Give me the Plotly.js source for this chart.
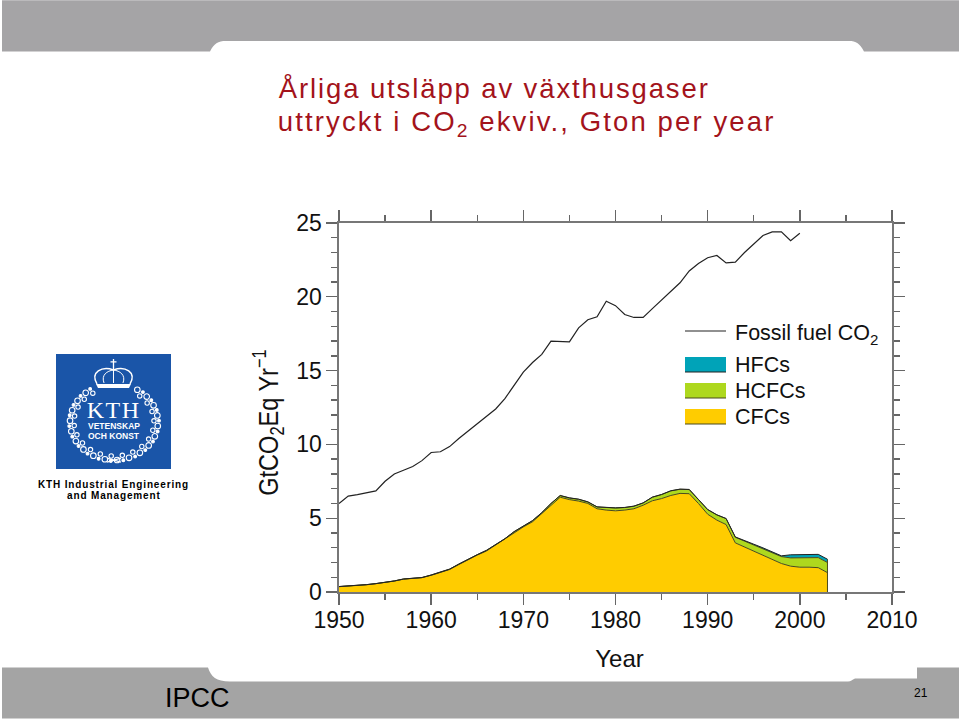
<!DOCTYPE html>
<html><head><meta charset="utf-8">
<script src="https://cdn.plot.ly/plotly-3.0.1.min.js"></script>
<style>html,body{margin:0;padding:0;background:#fff}#c{width:960px;height:720px}
.annotation[data-index="0"] text{letter-spacing:1.88px}
.annotation[data-index="1"] text{letter-spacing:2.12px}
.annotation[data-index="2"] text{letter-spacing:1.5px}
.annotation[data-index="5"] text,.annotation[data-index="6"] text{letter-spacing:.85px}
</style>
</head><body><div id="c"></div>
<script>
const years = [1950,1951,1952,1953,1954,1955,1956,1957,1958,1959,1960,1961,1962,1963,1964,1965,1966,1967,1968,1969,1970,1971,1972,1973,1974,1975,1976,1977,1978,1979,1980,1981,1982,1983,1984,1985,1986,1987,1988,1989,1990,1991,1992,1993,1994,1995,1996,1997,1998,1999,2000,2001,2002,2003];
const fossilYears = years.slice(0,51);
const fossil = [6.0,6.5,6.6,6.75,6.85,7.5,8.0,8.25,8.5,8.9,9.45,9.5,9.85,10.4,10.9,11.4,11.95,12.4,13.1,14.0,14.9,15.55,16.1,17.0,17.0,16.95,17.9,18.45,18.65,19.7,19.4,18.8,18.6,18.6,19.2,19.8,20.4,20.95,21.75,22.25,22.65,22.8,22.3,22.35,23.0,23.6,24.15,24.4,24.4,23.8,24.3];
const cfc = [.36,.39,.42,.49,.56,.63,.74,.87,.90,.97,1.13,1.33,1.52,1.86,2.20,2.50,2.78,3.19,3.56,4.03,4.41,4.76,5.30,5.90,6.42,6.26,6.16,6.0,5.64,5.55,5.5,5.55,5.64,5.88,6.18,6.33,6.54,6.68,6.66,6.0,5.27,4.87,4.57,3.33,3.06,2.79,2.5,2.2,1.93,1.75,1.68,1.68,1.65,1.31];
const hcfc = [.01,.01,.01,.01,.01,.01,.01,.01,.01,.01,.02,.03,.03,.03,.03,.03,.04,.04,.05,.06,.06,.07,.07,.09,.11,.11,.12,.10,.12,.17,.19,.17,.17,.15,.24,.27,.31,.28,.28,.26,.31,.35,.40,.38,.38,.41,.44,.45,.47,.56,.65,.65,.68,.69];
const hfc = [0,0,0,0,0,0,0,0,0,0,0,0,0,0,0,0,0,0,0,0,.01,.01,.01,.01,.01,.01,.01,.01,.01,.01,.01,.01,.01,.01,.01,.01,.01,.01,.01,.01,.01,.01,.01,.02,.02,.04,.05,.07,.05,.21,.19,.19,.22,.22];
const xTicks = [1950,1960,1970,1980,1990,2000,2010];
const yTicks = [0,5,10,15,20,25];

// page geometry in pixels
const L=339,R=892,T=223.3,B=591.7;
const X=p=>(p-L)/(R-L), Y=p=>(B-p)/(B-T);
const GREY='#a5a4a6', BLUE='#1a55a8', FF='Liberation Sans, Arial, sans-serif';
const P=(s)=>s.replace(/([MLC])?\s*(-?[\d.]+),(-?[\d.]+)/g,(m,c,a,b)=>(c||'')+X(+a).toFixed(5)+','+Y(+b).toFixed(5)+' ');
const shape=(d,fill,extra)=>Object.assign({type:'path',xref:'paper',yref:'paper',layer:'below',path:d,fillcolor:fill,line:{width:0}},extra||{});
const shapes=[];
// slide frame
shapes.push(shape(P('M2,1 L959,1 L959,52 L864,52 C860,44 856,41.5 849,41.5 L226,41.5 C218,41.5 214,44 210,52 L2,52 Z'),GREY));
shapes.push(shape(P('M2,667 L208,667 C211,676 216,681 230,681 L848,681 C851,681 852,679 855,678 L917,678 L917,667 L959,667 L959,718 L2,718 Z'),'#a4a4a4'));
// logo
shapes.push(shape(P('M56,354 L171,354 L171,469 L56,469 Z'),BLUE));
const cx=114,cy=422,rx=40,ry=34;
const ring=(x,y,r,fill)=>shapes.push({type:'circle',xref:'paper',yref:'paper',layer:'below',x0:X(x-r),x1:X(x+r),y0:Y(y+r),y1:Y(y-r),fillcolor:fill,line:{color:'#fff',width:1.1}});
for(let a=-58;a<=238;a+=8){
  const t=a*Math.PI/180, c=Math.cos(t), s=Math.sin(t);
  const odd=Math.round(a/8)%2!==0;
  ring(cx+(rx+(odd?4:0))*c,cy+(ry+(odd?4:0))*s,odd?2.8:2.2,'rgba(0,0,0,0)');
  if(!odd) ring(cx+(rx+5)*c,cy+(ry+5)*s,1.4,'#fff');
}
const stroke=(d,w)=>shapes.push(shape(P(d),'rgba(0,0,0,0)',{line:{color:'#fff',width:w}}));
stroke('M107,458 L121,462 M107,462 L121,458',1.2);
stroke('M97,384 C90,372 102,366 113.5,370 C125,366 137,372 130,384',1.5);
stroke('M104,383 C101,375 107,371 113.5,370 C120,371 126,375 123,383',1);
stroke('M113.5,383 L113.5,370',1);
stroke('M113.5,370 L113.5,359 M110.5,362 L116.5,362',1.3);
shapes.push(shape(P('M96,384 L131,384 L129,388 L98,388 Z'),'#fff'));

const ann=(text,x,y,size,extra)=>Object.assign({text,xref:'paper',yref:'paper',x:X(x),y:Y(y),xanchor:'left',yanchor:'middle',showarrow:false,font:{family:FF,size,color:'#000'},borderpad:0},extra||{});
const DR='#a3131b';
const annotations=[
 ann('Årliga utsläpp av växthusgaser',306,89,27.5,{font:{family:FF,size:27.5,color:DR}}),
 ann('uttryckt i CO<sub>2</sub> ekviv., Gton per year',315,124,27.5,{font:{family:FF,size:27.5,color:DR}}),
 ann('KTH',113.5,410,24,{xanchor:'center',font:{family:'Liberation Serif, serif',size:24,color:'#fff'}}),
 ann('<b>VETENSKAP</b>',113.5,426,8.5,{xanchor:'center',font:{family:FF,size:8.5,color:'#fff'}}),
 ann('<b>OCH KONST</b>',113.5,435.5,8.5,{xanchor:'center',font:{family:FF,size:8.5,color:'#fff'}}),
 ann('<b>KTH Industrial Engineering</b>',113.5,484,10,{xanchor:'center'}),
 ann('<b>and Management</b>',113.5,495,10,{xanchor:'center'}),
 ann('IPCC',164,698,27),
 ann('21',913,693,12)
];
const areaLine='#4a4a1c';
const last=cfc.length-1;
const traces=[
 {x:years,y:cfc,name:'CFCs',type:'scatter',mode:'lines',stackgroup:'a',fillcolor:'#ffcc00',line:{color:areaLine,width:1}},
 {x:years,y:hcfc,name:'HCFCs',type:'scatter',mode:'lines',stackgroup:'a',fillcolor:'#aed81e',line:{color:areaLine,width:1}},
 {x:years,y:hfc,name:'HFCs',type:'scatter',mode:'lines',stackgroup:'a',fillcolor:'#00a3b8',line:{color:'#222',width:1}},
 {x:[years[last],years[last]],y:[0,cfc[last]+hcfc[last]+hfc[last]],type:'scatter',mode:'lines',line:{color:areaLine,width:1},showlegend:false},
 {x:fossilYears,y:fossil,name:'Fossil fuel CO<sub>2</sub>',type:'scatter',mode:'lines',line:{color:'#222',width:1.2}}
];
const axis={showgrid:false,zeroline:false,showline:true,linecolor:'#777',linewidth:1.6,mirror:'allticks',ticks:'outside',tickcolor:'#666',tickwidth:1.4,ticklen:11,tickfont:{family:FF,size:23,color:'#111'}};
const minor=(d)=>({dtick:d,tick0:0,ticks:'outside',ticklen:6,tickcolor:'#666',tickwidth:1.4,showgrid:false});
const layout={
 width:960,height:720,paper_bgcolor:'#fff',plot_bgcolor:'rgba(0,0,0,0)',showlegend:true,hovermode:false,
 margin:{l:L,r:960-R,t:T,b:720-B,pad:0},
 xaxis:Object.assign({},axis,{range:[1950,2010],tickmode:'array',tickvals:xTicks,ticktext:xTicks.map(String),ticklabelstandoff:-4,minor:minor(5),title:{text:'Year',font:{family:FF,size:24,color:'#111'},standoff:18}}),
 yaxis:Object.assign({},axis,{range:[0,25],tickmode:'array',tickvals:yTicks,ticktext:yTicks.map(String),minor:minor(1),title:{text:'GtCO<sub>2</sub>Eq Yr<sup>−1</sup>',font:{family:FF,size:28,color:'#111'},standoff:14}}),
 legend:{x:X(680),y:Y(318),xanchor:'left',yanchor:'top',traceorder:'reversed',bgcolor:'rgba(0,0,0,0)',borderwidth:0,itemwidth:45,font:{family:FF,size:21.5,color:'#111'}},
 shapes,annotations
};
Plotly.newPlot('c',traces,layout,{displayModeBar:false,staticPlot:true}).then(()=>{
  const q=(s,r)=>Array.from((r||document).querySelectorAll(s));
  // legend rows and swatches as spaced in the reference
  const lg=document.querySelector('.legend');
  const ly=+/translate\([^,]+,\s*([-\d.]+)/.exec(lg.getAttribute('transform'))[1];
  const rowsY=[332,364,390,416];
  q('.traces',lg).forEach((g,i)=>{
    g.setAttribute('transform','translate(0,'+(rowsY[i]-ly)+')');
    q('.legendfill path',g).forEach(p=>p.setAttribute('d','M5,-7h41v15h-41z'));
    q('.legendlines path',g).forEach(p=>p.setAttribute('d',i?'M5,8h41':'M5,-1h41'));
  });
  // axis-title placement; the y title is condensed along its length as in the reference
  const yt=document.querySelector('.ytitle'), xt=document.querySelector('.xtitle');
  if(yt){
    const x=yt.getAttribute('x'), y=yt.getAttribute('y');
    yt.setAttribute('transform','translate(5,15) '+(yt.getAttribute('transform')||'')+' translate('+x+','+y+') scale(.84,1) translate('+(-x)+','+(-y)+')');
  }
  if(xt) xt.setAttribute('transform','translate(4,0) '+(xt.getAttribute('transform')||''));
});
</script></body></html>
